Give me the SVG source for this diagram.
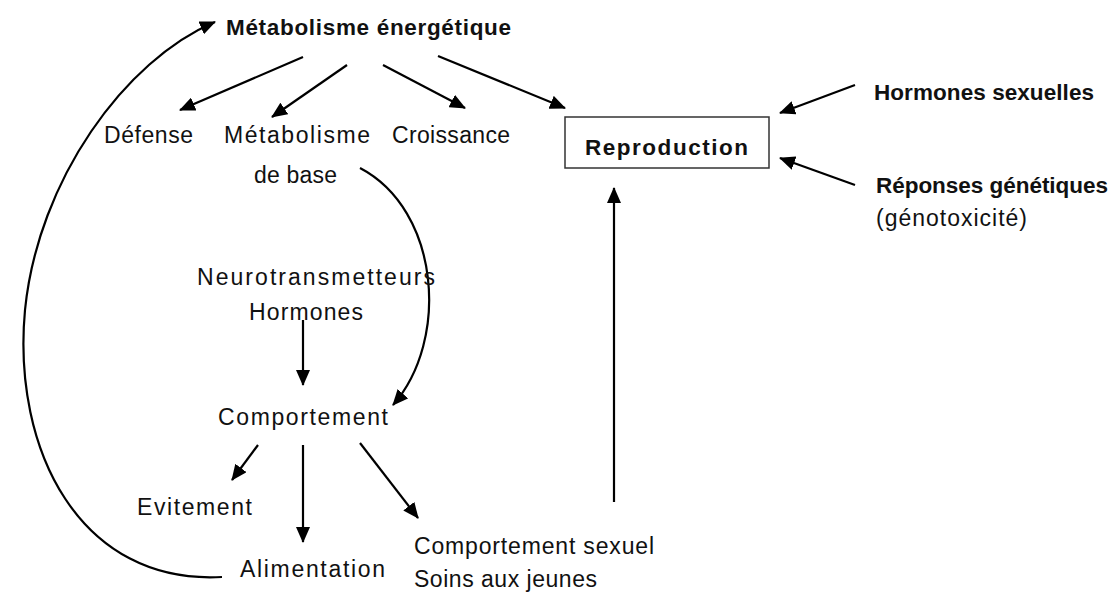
<svg xmlns="http://www.w3.org/2000/svg" width="1118" height="592" viewBox="0 0 1118 592">
<style>
text{font-family:"Liberation Sans",Arial,sans-serif;font-size:23px;fill:#111}
.b{font-weight:bold;font-size:22.5px}
.c{fill:none;stroke:#000;stroke-width:2.2}
</style>
<defs>
<marker id="a" viewBox="0 0 16 14" refX="15" refY="7" markerWidth="16" markerHeight="14" markerUnits="userSpaceOnUse" orient="auto">
<path d="M0,0 L16,7 L0,14 z" fill="#000"/>
</marker>
</defs>
<rect width="1118" height="592" fill="#fff"/>
<g id="connectors">
<path class="c" d="M303,57 L180,110" marker-end="url(#a)"/>
<path class="c" d="M347,65 L272,117" marker-end="url(#a)"/>
<path class="c" d="M383,65 L465,108" marker-end="url(#a)"/>
<path class="c" d="M438,56 L565,108" marker-end="url(#a)"/>
<path class="c" d="M855,85 L780,113" marker-end="url(#a)"/>
<path class="c" d="M855,185 L780,158" marker-end="url(#a)"/>
<path class="c" d="M614,502 L614,188" marker-end="url(#a)"/>
<path class="c" d="M360,168 C440,210 450,340 393,405" marker-end="url(#a)"/>
<path class="c" d="M303,320 L303,385" marker-end="url(#a)"/>
<path class="c" d="M258,445 L232,480" marker-end="url(#a)"/>
<path class="c" d="M303,445 L303,542" marker-end="url(#a)"/>
<path class="c" d="M360,443 L418,518" marker-end="url(#a)"/>
<path class="c" d="M222,577 C80,585 12,450 25,310 C38,180 125,60 215,22" marker-end="url(#a)"/>
</g>
<g id="metabolisme-energetique"><text class="b" x="226" y="35" textLength="285">Métabolisme énergétique</text></g>
<g id="defense"><text x="104" y="143" textLength="89">Défense</text></g>
<g id="metabolisme-base"><text x="224" y="143" textLength="146">Métabolisme</text><text x="254" y="183" textLength="83">de base</text></g>
<g id="croissance"><text x="392" y="143" textLength="118">Croissance</text></g>
<g id="reproduction"><rect x="565" y="117" width="204" height="51" fill="#fff" stroke="#333" stroke-width="1.5"/><text class="b" x="585" y="155" textLength="163">Reproduction</text></g>
<g id="hormones-sexuelles"><text class="b" x="874" y="100" textLength="220">Hormones sexuelles</text></g>
<g id="reponses-genetiques"><text class="b" x="876" y="193" textLength="232">Réponses génétiques</text><text x="876" y="226" textLength="151">(génotoxicité)</text></g>
<g id="neurotransmetteurs"><text x="197" y="285" textLength="238">Neurotransmetteurs</text><text x="249" y="320" textLength="114">Hormones</text></g>
<g id="comportement"><text x="218" y="425" textLength="170">Comportement</text></g>
<g id="evitement"><text x="137" y="515" textLength="115">Evitement</text></g>
<g id="alimentation"><text x="240" y="577" textLength="145">Alimentation</text></g>
<g id="comportement-sexuel"><text x="414" y="554" textLength="240">Comportement sexuel</text><text x="414" y="587" textLength="183">Soins aux jeunes</text></g>
</svg>
